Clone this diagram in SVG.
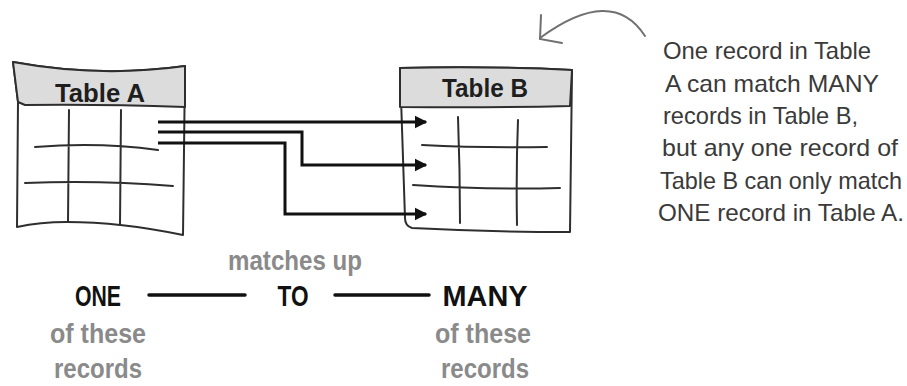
<svg xmlns="http://www.w3.org/2000/svg" width="907" height="386" viewBox="0 0 907 386">
<style>
  .frame { fill: #ffffff; stroke: #2e2e2e; stroke-width: 2; stroke-linejoin: round; }
  .head { fill: #dcdcdc; stroke: #2e2e2e; stroke-width: 2; stroke-linejoin: round; }
  .grid { fill: none; stroke: #2e2e2e; stroke-width: 2; stroke-linecap: round; }
  .conn { fill: none; stroke: #111111; stroke-width: 3; }
  .title { font-family: "Liberation Sans Narrow", "Liberation Sans", Arial, sans-serif; font-weight: bold; font-size: 26px; fill: #1e1e1e; }
  .note { font-family: "Liberation Sans Narrow", "Liberation Sans", Arial, sans-serif; font-size: 24px; fill: #3a3a3a; }
  .big { font-family: "Liberation Sans Narrow", "Liberation Sans", Arial, sans-serif; font-weight: bold; font-size: 30px; fill: #111111; }
  .sub { font-family: "Liberation Sans Narrow", "Liberation Sans", Arial, sans-serif; font-weight: bold; font-size: 27px; fill: #8a8a8a; }
  .rule { stroke: #111111; stroke-width: 3.5; stroke-linecap: round; }
  .callout { fill: none; stroke: #707070; stroke-width: 2; stroke-linecap: round; }
</style>
<defs>
  <marker id="ah" viewBox="0 0 10 10" refX="9" refY="5" markerWidth="4.2" markerHeight="4.6" orient="auto" markerUnits="strokeWidth">
    <path d="M0,0 L10,5 L0,10 Z" fill="#111111"/>
  </marker>
</defs>

<g id="tableA">
  <path class="frame" d="M13,62 Q100,78 185,66 L183,235 Q120,222 67,222 Q40,222 17,227 L18,102 Z"/>
  <path class="head" d="M13,62 Q100,78 185,66 L185,107 Q100,104 25,105 L18,102 Z"/>
  <text class="title" x="100" y="102" text-anchor="middle" textLength="90" lengthAdjust="spacingAndGlyphs">Table A</text>
  <path class="grid" d="M69,110 L68,222 M121,110 L120,225 M35,147 Q100,142 158,150 M25,183 Q100,180 173,186"/>
</g>

<g id="tableB">
  <path class="frame" d="M400,68 Q490,66 572,70 L570,232 Q490,232 412,228 Q405,226 405,218 Z"/>
  <path class="head" d="M400,68 Q490,66 572,70 L570,106 Q490,108 400,107 Z"/>
  <text class="title" x="485" y="97" text-anchor="middle" textLength="86" lengthAdjust="spacingAndGlyphs">Table B</text>
  <path class="grid" d="M458,117 Q460,170 460,223 M518,120 Q516,170 517,225 M422,145 Q480,148 547,147 M413,185 Q490,190 560,188"/>
</g>

<g id="connectors">
  <path class="conn" marker-end="url(#ah)" d="M158,122 L426,122"/>
  <path class="conn" marker-end="url(#ah)" d="M158,132 L302,132 L302,165 L426,165"/>
  <path class="conn" marker-end="url(#ah)" d="M158,143 L285,143 L285,214 L426,214"/>
  <path class="callout" d="M645,36 Q612,-15 540,38"/>
  <path class="callout" d="M541,15 L540,39 L562,43"/>
</g>

<g id="note">
  <text class="note" x="663" y="59" textLength="208" lengthAdjust="spacingAndGlyphs">One record in Table</text>
  <text class="note" x="665" y="92" textLength="214" lengthAdjust="spacingAndGlyphs">A can match MANY</text>
  <text class="note" x="663" y="124" textLength="195" lengthAdjust="spacingAndGlyphs">records in Table B,</text>
  <text class="note" x="662" y="156" textLength="236" lengthAdjust="spacingAndGlyphs">but any one record of</text>
  <text class="note" x="660" y="189" textLength="242" lengthAdjust="spacingAndGlyphs">Table B can only match</text>
  <text class="note" x="658" y="221" textLength="246" lengthAdjust="spacingAndGlyphs">ONE record in Table A.</text>
</g>

<g id="cardinality">
  <text class="sub" x="295" y="270" text-anchor="middle" textLength="134" lengthAdjust="spacingAndGlyphs">matches up</text>
  <text class="big" x="98" y="306" text-anchor="middle" textLength="46" lengthAdjust="spacingAndGlyphs">ONE</text>
  <line class="rule" x1="149" y1="295" x2="245" y2="295"/>
  <text class="big" x="293" y="306" text-anchor="middle" textLength="31" lengthAdjust="spacingAndGlyphs">TO</text>
  <line class="rule" x1="335" y1="295" x2="429" y2="295"/>
  <text class="big" x="485" y="306" text-anchor="middle" textLength="85" lengthAdjust="spacingAndGlyphs">MANY</text>
  <text class="sub" x="98" y="343" text-anchor="middle" textLength="96" lengthAdjust="spacingAndGlyphs">of these</text>
  <text class="sub" x="98" y="378" text-anchor="middle" textLength="88" lengthAdjust="spacingAndGlyphs">records</text>
  <text class="sub" x="483" y="343" text-anchor="middle" textLength="96" lengthAdjust="spacingAndGlyphs">of these</text>
  <text class="sub" x="485" y="378" text-anchor="middle" textLength="88" lengthAdjust="spacingAndGlyphs">records</text>
</g>
</svg>
